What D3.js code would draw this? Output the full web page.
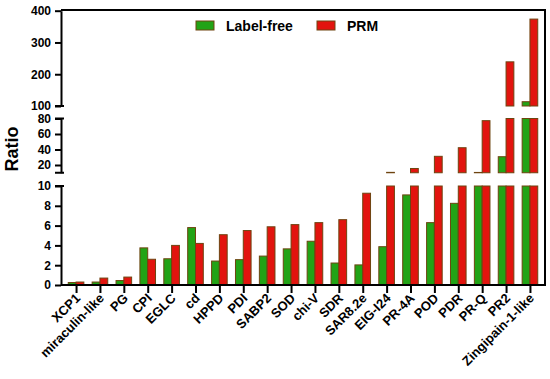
<!DOCTYPE html>
<html>
<head>
<meta charset="utf-8">
<script src="https://cdn.jsdelivr.net/npm/d3@7/dist/d3.min.js"></script>
<style>
  body { margin: 0; background: #fff; }
  text { font-family: "Liberation Sans", Arial, sans-serif; font-weight: bold; }
</style>
</head>
<body>
<svg id="chart" width="550" height="379"></svg>
<script>
var genes = ["XCP1", "miraculin-like", "PG", "CPI", "EGLC", "cd", "HPPD", "PDI", "SABP2", "SOD",
  "chi-V", "SDR", "SAR8.2e", "EIG-I24", "PR-4A", "POD", "PDR", "PR-Q", "PR2", "Zingipain-1-like"];
var labelFree = [0.25, 0.3, 0.45, 3.75, 2.65, 5.8, 2.42, 2.56, 2.92, 3.65,
  4.42, 2.22, 2.03, 3.87, 9.1, 6.3, 8.25, 10.4, 30.7, 113.5];
var prm = [0.3, 0.7, 0.8, 2.6, 4.0, 4.2, 5.08, 5.5, 5.88, 6.1,
  6.3, 6.6, 9.27, 10.5, 15.5, 31.2, 42.3, 77.2, 239, 373.6];
var ticksLow = [0, 2, 4, 6, 8, 10];
var ticksMid = [20, 40, 60, 80];
var ticksHigh = [100, 200, 300, 400];
var seriesNames = ["Label-free", "PRM"];
var colors = ["#22a316", "#e2140e"];
var edge = "#6e4410";

var margin = {l: 61, t: 10, r: 545, b: 285};
var svg = d3.select("#chart");

// three pieces of the broken y axis
var segments = [
  {domain: [0, 10], range: [285, 186], ticks: ticksLow},
  {domain: [10, 80], range: [172.75, 118.5], ticks: ticksMid},
  {domain: [100, 400], range: [106, 10.7], ticks: ticksHigh}
];
segments.forEach(function(s) { s.scale = d3.scaleLinear().domain(s.domain).range(s.range); });

var x = d3.scalePoint().domain(genes).range([margin.l, margin.r]).padding(0.63);
var barW = 7.8;

var rows = genes.map(function(g, i) { return {gene: g, vals: [labelFree[i], prm[i]]}; });

var bars = svg.append("g");
rows.forEach(function(d) {
  d.vals.forEach(function(v, k) {
    segments.forEach(function(s) {
      if (v <= s.domain[0]) return;
      var top = s.scale(Math.min(v, s.domain[1]));
      var bot = s.scale(s.domain[0]);
      bars.append("rect")
        .attr("x", x(d.gene) + (k - 1) * barW)
        .attr("y", top)
        .attr("width", barW)
        .attr("height", bot - top)
        .attr("fill", colors[k])
        .attr("stroke", edge)
        .attr("stroke-width", 1);
    });
  });
});

// y axis pieces
segments.forEach(function(s) {
  var g = svg.append("g")
    .attr("transform", "translate(" + margin.l + ",0)")
    .call(d3.axisLeft(s.scale).tickValues(s.ticks).tickSize(6).tickSizeOuter(0).tickPadding(4));
  g.select(".domain").attr("stroke", "#000").attr("stroke-width", 2);
  g.selectAll(".tick line").attr("stroke", "#000").attr("stroke-width", 2);
  g.selectAll(".tick text").attr("fill", "#000").style("font-size", "12px");
});

// caps at the axis breaks
[186, 172.75, 118.5, 106].forEach(function(y) {
  svg.append("line")
    .attr("x1", margin.l - 6).attr("x2", margin.l + 3)
    .attr("y1", y).attr("y2", y)
    .attr("stroke", "#000").attr("stroke-width", 2);
});

// x axis
var xg = svg.append("g")
  .attr("transform", "translate(0," + margin.b + ")")
  .call(d3.axisBottom(x).tickSize(8).tickSizeOuter(0));
xg.select(".domain").remove();
xg.selectAll(".tick line").attr("stroke", "#000").attr("stroke-width", 2);
xg.selectAll(".tick text").remove();

svg.append("g").selectAll("text")
  .data(genes)
  .enter()
  .append("text")
  .attr("transform", function(d) { return "translate(" + (x(d) + 5) + ",299) rotate(-45)"; })
  .attr("text-anchor", "end")
  .style("font-size", "13px")
  .text(function(d) { return d; });

// frame
svg.append("path")
  .attr("d", "M" + margin.l + "," + margin.b + "H" + margin.r + "V" + margin.t + "H" + margin.l)
  .attr("fill", "none").attr("stroke", "#000").attr("stroke-width", 2);

// y title
svg.append("text")
  .attr("transform", "translate(18,149) rotate(-90)")
  .attr("text-anchor", "middle")
  .style("font-size", "18px")
  .text("Ratio");

// legend
var legendX = [196, 317];
seriesNames.forEach(function(n, k) {
  svg.append("rect")
    .attr("x", legendX[k]).attr("y", 21)
    .attr("width", 18).attr("height", 9)
    .attr("fill", colors[k]).attr("stroke", edge).attr("stroke-width", 1);
  svg.append("text")
    .attr("x", legendX[k] + 30).attr("y", 31)
    .style("font-size", "14px")
    .text(n);
});
</script>
</body>
</html>
